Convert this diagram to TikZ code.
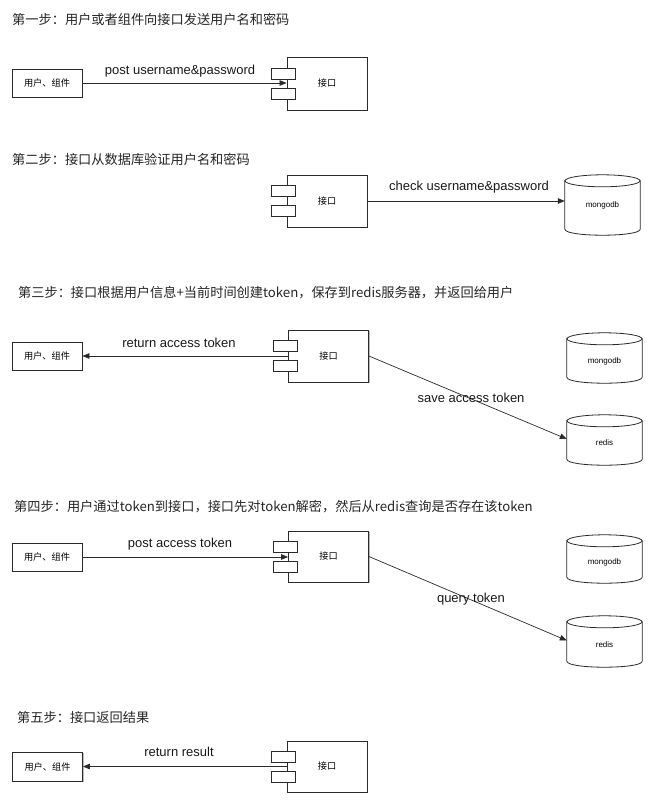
\documentclass[tikz,border=0pt]{standalone}
\usepackage{fontspec}
\setmainfont{Liberation Sans}
\newfontfamily\cjk{Noto Sans CJK SC}
\usetikzlibrary{arrows.meta,calc,shadows}
\definecolor{ln}{HTML}{2A2A2A}
\tikzset{
  title/.style={anchor=west,inner sep=0pt,font=\cjk\fontsize{13.2}{15}\selectfont,text=black!85},
  lbl/.style={inner sep=0pt,font=\fontsize{13}{15}\selectfont,text=black!90},
  userbox/.style={draw=ln,line width=0.8pt,fill=white,minimum width=70pt,minimum height=28pt,inner sep=0pt,
    font=\cjk\fontsize{9.2}{10}\selectfont,drop shadow={shadow xshift=1pt,shadow yshift=-1.2pt,fill=black!45,opacity=0.6}},
  ifbox/.style={draw=ln,line width=0.8pt,fill=white,minimum width=80pt,minimum height=52pt,inner sep=0pt,
    font=\cjk\fontsize{9.2}{10}\selectfont,drop shadow={shadow xshift=1pt,shadow yshift=-1.2pt,fill=black!45,opacity=0.6}},
  port/.style={draw=ln,line width=0.8pt,fill=white},
  cylbox/.style={minimum width=75pt,inner sep=0pt,font=\fontsize{8}{9}\selectfont},
  cylline/.style={draw=ln,line width=0.8pt,fill=white},
  conn/.style={draw=ln,line width=0.7pt,-{Triangle[length=7pt,width=5.5pt]}},
}
\newcommand\ports[1]{%
  \draw[port] ($(#1.west)+(-15,-15.5)$) rectangle ($(#1.west)+(9,-4.5)$);
  \draw[port] ($(#1.west)+(-15,4.5)$) rectangle ($(#1.west)+(9,15.5)$);
}
\newcommand\drawcyl[1]{%
  \path[cylline] ($(#1.north west)+(0,6)$) -- ($(#1.south west)+(0,-6)$)
    .. controls ($(#1.south west)+(0,2)$) and ($(#1.south east)+(0,2)$) .. ($(#1.south east)+(0,-6)$)
    -- ($(#1.north east)+(0,6)$) -- cycle;
  \draw[cylline] ($(#1.north)+(0,6)$) ellipse [x radius=37.5, y radius=6];
}
\begin{document}
\begin{tikzpicture}[x=1pt,y=-1pt]
\useasboundingbox[fill=white] (0,0) rectangle (650,806);

% ---------- Step 1
\node[title] (t1) at (12,19) {第一步：用户或者组件向接口发送用户名和密码};
\node[userbox] (u1) at (47,83) {用户、组件};
\node[ifbox,minimum height=53pt] (i1) at (327,83.5) {接口};
\ports{i1}
\draw[conn] (u1.east) -- (u1.east -| i1.west);
\node[lbl] (l1) at (180,71) {post username\&password};

% ---------- Step 2
\node[title] (t2) at (12,159) {第二步：接口从数据库验证用户名和密码};
\node[ifbox] (i2) at (327,201) {接口};
\ports{i2}
\node[cylbox,minimum height=60pt] (m2) at (602.5,205) {};
\drawcyl{m2}
\node[cylbox] at (602.5,205) {mongodb};
\draw[conn] (i2.east) -- (i2.east -| m2.west);
\node[lbl] (l2) at (469,187) {check username\&password};

% ---------- Step 3
\node[title] (t3) at (18,293) {第三步：接口根据用户信息+当前时间创建token，保存到redis服务器，并返回给用户};
\node[userbox] (u3) at (47,356) {用户、组件};
\node[ifbox] (i3) at (328.5,356) {接口};
\ports{i3}
\node[cylbox,minimum height=50pt] (m3) at (604.5,358) {};
\drawcyl{m3}
\node[cylbox] at (604.5,361) {mongodb};
\node[cylbox,minimum height=50pt] (r3) at (604.5,440) {};
\drawcyl{r3}
\node[cylbox] at (604.5,443) {redis};
\draw[conn] (i3.west) -- (u3.east);
\draw[conn] (i3.east) -- ($(r3.west)+(0,-1)$);
\node[lbl] (l3a) at (179,343) {return access token};
\node[lbl] (l3b) at (471,398) {save access token};

% ---------- Step 4
\node[title] (t4) at (14,507) {第四步：用户通过token到接口，接口先对token解密，然后从redis查询是否存在该token};
\node[userbox] (u4) at (47,557) {用户、组件};
\node[ifbox,minimum height=51pt] (i4) at (328.5,556.5) {接口};
\ports{i4}
\node[cylbox,minimum height=48pt] (m4) at (604.5,559) {};
\drawcyl{m4}
\node[cylbox] at (604.5,562) {mongodb};
\node[cylbox,minimum height=51pt] (r4) at (604.5,641.5) {};
\drawcyl{r4}
\node[cylbox] at (604.5,644.5) {redis};
\draw[conn] (u4.east) -- (u4.east -| i4.west);
\draw[conn] (i4.east) -- ($(r4.west)+(0,-1)$);
\node[lbl] (l4a) at (180,544) {post access token};
\node[lbl] (l4b) at (471,599) {query token};

% ---------- Step 5
\node[title] (t5) at (17,717) {第五步：接口返回结果};
\node[userbox,minimum height=29pt] (u5) at (47.5,766.5) {用户、组件};
\node[ifbox,minimum height=51pt] (i5) at (327,766.5) {接口};
\ports{i5}
\draw[conn] (i5.west) -- (i5.west -| u5.east);
\node[lbl] (l5) at (179,752) {return result};
\end{tikzpicture}
\end{document}
